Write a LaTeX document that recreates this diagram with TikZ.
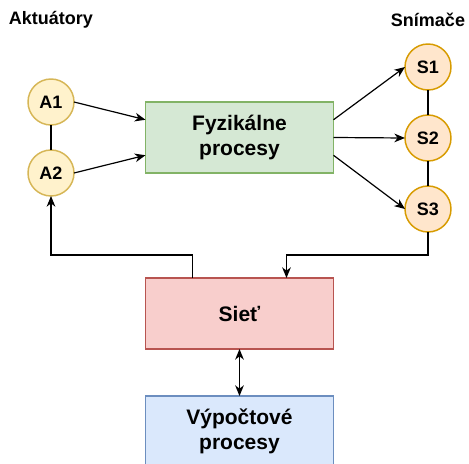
\documentclass[tikz,border=0pt]{standalone}
\usepackage{fontspec}
\setmainfont{Liberation Sans}
\usepackage{xcolor}
\usepackage{tikz}
\usetikzlibrary{arrows.meta,positioning,calc,shapes.geometric}

\definecolor{grfill}{HTML}{D5E8D4}
\definecolor{grline}{HTML}{82B366}
\definecolor{rdfill}{HTML}{F8CECC}
\definecolor{rdline}{HTML}{B85450}
\definecolor{blfill}{HTML}{DAE8FC}
\definecolor{blline}{HTML}{6C8EBF}
\definecolor{ylfill}{HTML}{FFF2CC}
\definecolor{ylline}{HTML}{D6B656}
\definecolor{orfill}{HTML}{FFE6CC}
\definecolor{orline}{HTML}{D79B00}

\begin{document}
\begin{tikzpicture}[
  x=0.75pt, y=-0.75pt,
  box/.style={rectangle, draw, line width=1.1pt, inner sep=0pt, outer sep=0pt, minimum width=141pt, minimum height=53.25pt, align=center, font=\fontsize{15.75}{18.5}\selectfont\bfseries},
  akt/.style={circle, draw=ylline, fill=ylfill, line width=1.1pt, inner sep=0pt, outer sep=0pt, minimum size=34.5pt, font=\fontsize{13.5}{16}\selectfont\bfseries},
  sni/.style={akt, draw=orline, fill=orfill},
  title/.style={font=\fontsize{13.5}{16}\selectfont\bfseries},
  arrow/.style={-{Stealth[length=8pt,width=6.5pt,inset=2.5pt]}, line width=0.9pt},
  link/.style={line width=0.9pt}
]
\useasboundingbox (0,0) rectangle (469,464);

% Procesy
\node[box, draw=grline, fill=grfill] (fyz) at (239.5,137.5) {Fyzik\'alne\\procesy};
\node[box, draw=rdline, fill=rdfill] (siet) [below=78.75pt of fyz] {Sie\v{t}};
\node[box, draw=blline, fill=blfill] (vyp) [below=35.25pt of siet] {V\'ypo\v{c}tov\'e\\procesy};

% Aktuatory
\node[title] (takt) at (51,20) {Aktu\'atory};
\node[akt] (a1) at (51,102) {A1};
\node[akt] (a2) [below=18.75pt of a1] {A2};
\draw[link] (a1) -- (a2);

% Snimace
\node[title] (tsni) at (428,20) {Sn\'ima\v{c}e};
\node[sni] (s1) at (428,67) {S1};
\node[sni] (s2) [below=18.75pt of s1] {S2};
\node[sni] (s3) [below=18.75pt of s2] {S3};
\draw[link] (s1) -- (s2);
\draw[link] (s2) -- (s3);

% Vstupy a vystupy
\draw[arrow] (a1.east) -- ($(fyz.north west)!0.25!(fyz.south west)$);
\draw[arrow] (a2.east) -- ($(fyz.north west)!0.75!(fyz.south west)$);
\draw[arrow] ($(fyz.north east)!0.25!(fyz.south east)$) -- (s1.west);
\draw[arrow] (fyz.east) -- (s2.west);
\draw[arrow] ($(fyz.north east)!0.75!(fyz.south east)$) -- (s3.west);

% Siet
\coordinate (sl) at ($(siet.north west)!0.25!(siet.north east)$);
\coordinate (sr) at ($(siet.north west)!0.75!(siet.north east)$);
\draw[arrow] (sl) -- ++(0,-23) -| (a2);
\draw[arrow] (s3) -- ++(0,46) -| (sr);
\draw[arrow, {Stealth[length=8pt,width=6.5pt,inset=2.5pt]}-{Stealth[length=8pt,width=6.5pt,inset=2.5pt]}] (siet) -- (vyp);

\end{tikzpicture}
\end{document}
